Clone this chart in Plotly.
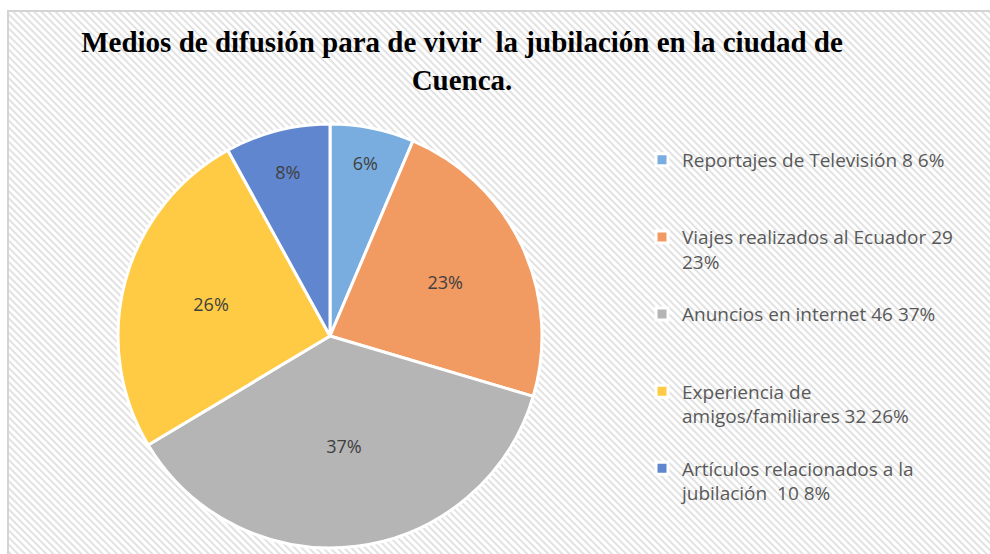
import base64
import plotly.graph_objects as go

# Datos
categorias = [
    "Reportajes de Televisión 8 6%",
    "Viajes realizados al Ecuador 29<br>23%",
    "Anuncios en internet 46 37%",
    "Experiencia de<br>amigos/familiares 32 26%",
    "Artículos relacionados a la<br>jubilación  10 8%",
]
frecuencias = [8, 29, 46, 32, 10]
colores = ["#79ADDF", "#F19A62", "#B5B5B5", "#FFCB45", "#5F86CF"]

titulo = "Medios de difusión para de vivir  la jubilación en la ciudad de<br>Cuenca."

W, H = 990, 554

# pad the legend names so the items are spread out like the original
nombres = []
for c in categorias:
    extra = 3 - (c.count("<br>") + 1)
    nombres.append(c + "<br> " * extra)

# hatched background as an svg pattern, framed on the top and left only
svg = f'''<svg xmlns="http://www.w3.org/2000/svg" width="{W}" height="{H}">
<defs><pattern id="h" width="5" height="5" patternUnits="userSpaceOnUse" patternTransform="rotate(-45)">
<rect width="5" height="5" fill="#ffffff"/><rect width="2" height="5" fill="#e2e2e2"/></pattern></defs>
<rect x="8" y="11" width="{W}" height="{H}" fill="url(#h)"/>
<path d="M8 {H} V11 H{W}" fill="none" stroke="#d4d4d4" stroke-width="2"/>
</svg>'''
fondo = "data:image/svg+xml;base64," + base64.b64encode(svg.encode("utf-8")).decode()

fig = go.Figure(go.Pie(
    labels=nombres,
    values=frecuencias,
    sort=False,
    direction="clockwise",
    rotation=0,
    marker=dict(colors=colores, line=dict(color="white", width=3)),
    texttemplate="%{percent:.0%}",
    textposition="inside",
    insidetextorientation="horizontal",
    textfont=dict(family="Open Sans, sans-serif", size=18, color="#404040"),
    domain=dict(x=[118 / W, 542 / W], y=[6 / H, 430 / H]),
    hoverinfo="label+value+percent",
))

fig.update_layout(
    width=W, height=H,
    margin=dict(l=0, r=0, t=0, b=0),
    paper_bgcolor="white",
    plot_bgcolor="white",
    title=dict(
        text=titulo,
        x=462 / W, xanchor="center",
        y=1 - 52 / H, yanchor="top",
        font=dict(family="Liberation Serif, Times New Roman, serif", size=29, color="black", weight="bold"),
    ),
    legend=dict(
        x=642 / W, xanchor="left",
        y=1 - 141 / H, yanchor="top",
        valign="top",
        bgcolor="rgba(0,0,0,0)",
        font=dict(family="Open Sans, sans-serif", size=19, color="#595959"),
        itemwidth=30,
    ),
    images=[dict(source=fondo, xref="paper", yref="paper", x=0, y=1, sizex=1, sizey=1,
                 sizing="stretch", xanchor="left", yanchor="top", layer="below")],
)

# drop the default page margin so the figure sits at the window corner
fig.write_html("out.html", config={"displayModeBar": False},
               post_script="document.body.style.margin='0';document.body.style.overflow='hidden';")
